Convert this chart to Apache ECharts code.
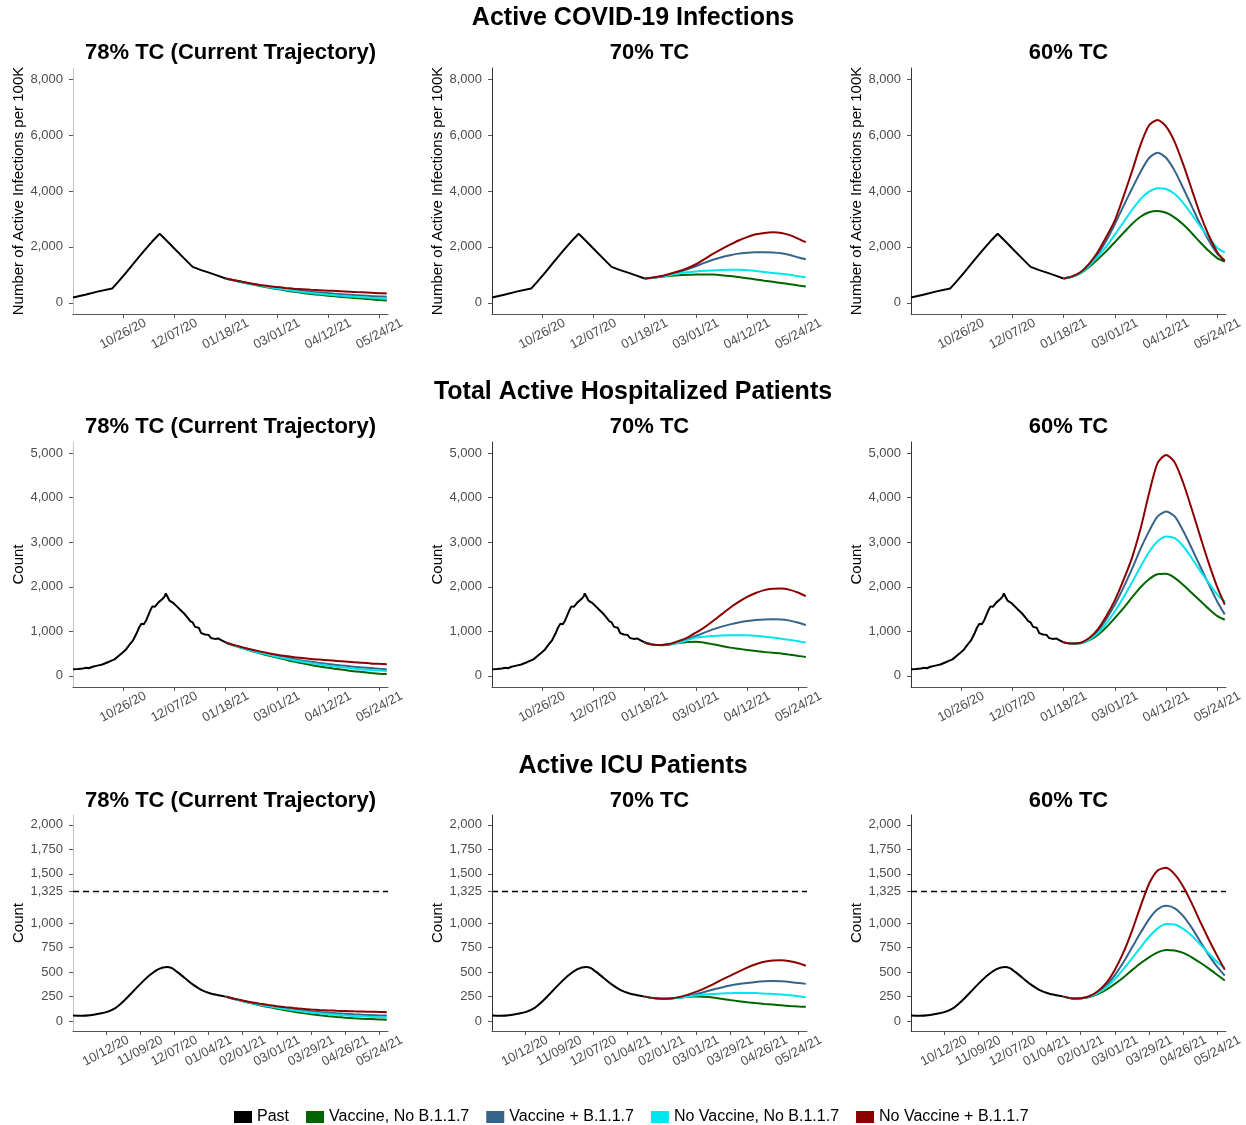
<!DOCTYPE html>
<html>
<head>
<meta charset="utf-8">
<script src="https://cdn.jsdelivr.net/npm/echarts@6/dist/echarts.min.js"></script>
<style>
html,body{margin:0;padding:0;background:#fff;}
#chart{width:1246px;height:1125px;}
</style>
</head>
<body>
<div id="chart"></div>
<script>
// ---------- DATA ----------
const seriesNames = ['Past', 'Vaccine, No B.1.1.7', 'Vaccine + B.1.1.7', 'No Vaccine, No B.1.1.7', 'No Vaccine + B.1.1.7'];
const rowTitles = ['Active COVID-19 Infections', 'Total Active Hospitalized Patients', 'Active ICU Patients'];
const colTitles = ['78% TC (Current Trajectory)', '70% TC', '60% TC'];
const yNames = ['Number of Active Infections per 100K', 'Count', 'Count'];

const xTicksWide = ['2020-10-26', '2020-12-07', '2021-01-18', '2021-03-01', '2021-04-12', '2021-05-24'];
const xTicksIcu = ['2020-10-12', '2020-11-09', '2020-12-07', '2021-01-04', '2021-02-01', '2021-03-01', '2021-03-29', '2021-04-26', '2021-05-24'];
const yTicksInf = [0, 2000, 4000, 6000, 8000];
const yTicksHosp = [0, 1000, 2000, 3000, 4000, 5000];
const yTicksIcu = [0, 250, 500, 750, 1000, 1325, 1500, 1750, 2000];
const icuCapacity = 1325;

// Past (observed)
const pastInfDates = ['2020-09-15', '2020-09-25', '2020-10-05', '2020-10-17', '2020-10-22', '2020-10-29', '2020-11-05', '2020-11-12', '2020-11-19', '2020-11-25', '2020-12-01', '2020-12-08', '2020-12-15', '2020-12-22', '2020-12-29', '2021-01-05', '2021-01-12', '2021-01-18'];
const pastInf = [190, 290, 400, 510, 750, 1110, 1480, 1850, 2200, 2470, 2210, 1900, 1590, 1285, 1170, 1070, 965, 870];

const pastHospDates = ['2020-09-15', '2020-09-19', '2020-09-23', '2020-09-26', '2020-09-28', '2020-10-01', '2020-10-05', '2020-10-09', '2020-10-13', '2020-10-16', '2020-10-19', '2020-10-22', '2020-10-25', '2020-10-28', '2020-10-31', '2020-11-03', '2020-11-06', '2020-11-08', '2020-11-10', '2020-11-12', '2020-11-14', '2020-11-17', '2020-11-19', '2020-11-21', '2020-11-24', '2020-11-27', '2020-11-29', '2020-11-30', '2020-12-01', '2020-12-03', '2020-12-06', '2020-12-09', '2020-12-12', '2020-12-15', '2020-12-18', '2020-12-20', '2020-12-22', '2020-12-24', '2020-12-27', '2020-12-29', '2021-01-01', '2021-01-04', '2021-01-06', '2021-01-09', '2021-01-12', '2021-01-14', '2021-01-16', '2021-01-18'];
const pastHosp = [150, 155, 165, 180, 170, 205, 230, 255, 300, 335, 370, 440, 510, 580, 690, 790, 950, 1080, 1170, 1160, 1250, 1450, 1560, 1550, 1650, 1720, 1780, 1850, 1820, 1690, 1640, 1560, 1480, 1400, 1300, 1230, 1200, 1100, 1080, 960, 930, 920, 850, 830, 840, 810, 780, 750];

const pastIcuDates = ['2020-09-15', '2020-09-22', '2020-09-29', '2020-10-06', '2020-10-13', '2020-10-20', '2020-10-27', '2020-11-03', '2020-11-10', '2020-11-17', '2020-11-24', '2020-12-01', '2020-12-05', '2020-12-09', '2020-12-15', '2020-12-22', '2020-12-29', '2021-01-05', '2021-01-12', '2021-01-18'];
const pastIcu = [58, 55, 60, 75, 95, 135, 210, 300, 390, 470, 530, 553, 540, 505, 445, 375, 320, 285, 265, 250];

// Projections (weekly from 2021-01-18)
const projDates = ['2021-01-18', '2021-01-25', '2021-02-01', '2021-02-08', '2021-02-15', '2021-02-22', '2021-03-01', '2021-03-08', '2021-03-15', '2021-03-22', '2021-03-29', '2021-04-05', '2021-04-12', '2021-04-19', '2021-04-26', '2021-05-03', '2021-05-10', '2021-05-17', '2021-05-24', '2021-05-30'];

// Infections per 100K
const inf78VacNoB = [870, 800, 730, 665, 605, 550, 490, 440, 395, 355, 318, 284, 254, 225, 200, 175, 150, 125, 100, 85];
const inf78VacB = [870, 805, 740, 680, 625, 575, 530, 490, 455, 425, 395, 370, 345, 320, 300, 280, 265, 245, 230, 220];
const inf78NoVacNoB = [870, 800, 735, 672, 615, 562, 512, 468, 425, 388, 352, 320, 290, 265, 240, 220, 200, 180, 165, 155];
const inf78NoVacB = [870, 810, 750, 692, 640, 600, 562, 532, 506, 485, 466, 450, 435, 420, 405, 390, 375, 360, 345, 335];

const inf70VacNoB = [870, 900, 935, 965, 990, 1005, 1015, 1015, 1010, 990, 960, 920, 880, 835, 790, 750, 710, 665, 620, 585];
const inf70VacB = [870, 905, 950, 1020, 1100, 1200, 1310, 1430, 1540, 1630, 1700, 1760, 1790, 1810, 1810, 1800, 1770, 1710, 1620, 1560];
const inf70NoVacNoB = [870, 900, 940, 995, 1050, 1090, 1120, 1145, 1160, 1175, 1180, 1180, 1165, 1140, 1100, 1070, 1040, 1000, 950, 910];
const inf70NoVacB = [870, 905, 960, 1040, 1130, 1240, 1380, 1560, 1750, 1920, 2080, 2230, 2350, 2450, 2500, 2520, 2500, 2420, 2290, 2170];

const inf60VacNoB = [870, 930, 1060, 1290, 1560, 1850, 2170, 2500, 2820, 3080, 3240, 3285, 3220, 3050, 2800, 2490, 2160, 1850, 1590, 1480];
const inf60VacB = [870, 940, 1080, 1360, 1740, 2230, 2820, 3460, 4080, 4680, 5180, 5370, 5180, 4720, 4100, 3450, 2800, 2220, 1750, 1520];
const inf60NoVacNoB = [870, 935, 1070, 1330, 1650, 2020, 2440, 2880, 3320, 3710, 3975, 4100, 4070, 3890, 3570, 3160, 2730, 2330, 1960, 1800];
const inf60NoVacB = [870, 945, 1100, 1400, 1820, 2360, 2950, 3800, 4700, 5650, 6350, 6540, 6300, 5750, 4950, 4050, 3150, 2400, 1800, 1490];

// Hospitalized
const hosp78VacNoB = [750, 680, 620, 560, 505, 455, 410, 365, 320, 280, 245, 210, 180, 155, 130, 105, 85, 65, 48, 40];
const hosp78VacB = [750, 685, 630, 575, 530, 485, 445, 410, 375, 345, 315, 290, 265, 245, 225, 205, 190, 175, 160, 150];
const hosp78NoVacNoB = [750, 683, 625, 570, 520, 475, 430, 390, 350, 315, 285, 255, 230, 205, 185, 165, 145, 130, 118, 110];
const hosp78NoVacB = [750, 690, 640, 590, 550, 510, 475, 445, 420, 400, 380, 365, 350, 335, 320, 305, 295, 280, 270, 262];

const hosp70VacNoB = [750, 700, 690, 705, 740, 760, 768, 745, 709, 672, 634, 608, 582, 560, 537, 518, 500, 475, 448, 425];
const hosp70VacB = [750, 700, 694, 715, 760, 820, 895, 970, 1044, 1105, 1156, 1200, 1231, 1255, 1268, 1270, 1268, 1240, 1194, 1141];
const hosp70NoVacNoB = [750, 700, 692, 710, 745, 800, 858, 880, 895, 905, 910, 912, 910, 898, 880, 860, 835, 808, 776, 746];
const hosp70NoVacB = [750, 700, 694, 720, 783, 860, 970, 1090, 1231, 1380, 1529, 1660, 1775, 1860, 1925, 1955, 1962, 1930, 1865, 1790];

const hosp60VacNoB = [750, 728, 730, 800, 920, 1090, 1300, 1520, 1760, 1990, 2170, 2280, 2290, 2200, 2040, 1860, 1680, 1500, 1340, 1260];
const hosp60VacB = [750, 728, 740, 830, 1000, 1280, 1600, 1980, 2400, 2850, 3250, 3580, 3690, 3580, 3250, 2860, 2450, 2050, 1660, 1380];
const hosp60NoVacNoB = [750, 728, 735, 815, 960, 1180, 1450, 1760, 2100, 2450, 2780, 3020, 3130, 3090, 2910, 2640, 2350, 2080, 1820, 1670];
const hosp60NoVacB = [750, 728, 745, 850, 1044, 1343, 1700, 2150, 2650, 3300, 4100, 4780, 4960, 4790, 4330, 3740, 3120, 2520, 1980, 1600];

// ICU
const icu78VacNoB = [250, 226, 203, 182, 162, 144, 127, 111, 96, 83, 71, 60, 51, 43, 36, 30, 25, 21, 17, 15];
const icu78VacB = [250, 228, 208, 190, 173, 158, 144, 131, 120, 110, 101, 93, 86, 80, 75, 70, 66, 62, 59, 57];
const icu78NoVacNoB = [250, 227, 206, 186, 168, 152, 137, 123, 110, 99, 89, 80, 72, 65, 59, 54, 49, 45, 42, 40];
const icu78NoVacB = [250, 229, 210, 193, 178, 165, 153, 143, 134, 126, 119, 114, 110, 106, 103, 100, 98, 96, 94, 92];

const icu70VacNoB = [250, 235, 228, 230, 238, 248, 252, 248, 240, 228, 215, 204, 193, 184, 176, 169, 162, 155, 150, 146];
const icu70VacB = [250, 235, 228, 230, 240, 256, 275, 298, 322, 343, 363, 378, 390, 400, 406, 408, 406, 400, 390, 380];
const icu70NoVacNoB = [250, 235, 228, 230, 238, 250, 262, 272, 278, 282, 285, 287, 288, 286, 281, 277, 271, 263, 254, 244];
const icu70NoVacB = [250, 235, 228, 232, 245, 268, 298, 335, 375, 420, 462, 505, 545, 580, 605, 618, 620, 610, 590, 565];

const icu60VacNoB = [250, 232, 232, 245, 275, 320, 380, 445, 520, 590, 650, 700, 725, 720, 695, 650, 595, 535, 470, 414];
const icu60VacB = [250, 232, 234, 252, 295, 365, 470, 600, 750, 900, 1040, 1140, 1175, 1150, 1070, 950, 810, 670, 550, 464];
const icu60NoVacNoB = [250, 232, 233, 248, 285, 345, 430, 530, 640, 750, 860, 945, 990, 985, 940, 870, 780, 690, 600, 542];
const icu60NoVacB = [250, 232, 234, 254, 305, 390, 525, 700, 920, 1170, 1400, 1535, 1562, 1495, 1370, 1200, 1010, 830, 660, 525];

// ---------- STYLE / LAYOUT ----------
const colors = ['#000000', '#006400', '#36648B', '#00E5EE', '#8B0000'];
const FONT = '"Liberation Sans", Arial, sans-serif';
const colLeft = [73, 492, 911];
const plotW = 315;
const rowTop = [68, 442, 815];
const rowH = [246, 245, 216];
const yRange = [[-400, 8400], [-250, 5250], [-100, 2100]];
const xMin = '2020-09-15', xMax = '2021-05-31';

function ts(s) { const p = s.split('-').map(Number); return Date.UTC(p[0], p[1] - 1, p[2]); }
function pad(n) { return (n < 10 ? '0' : '') + n; }
function fmtDate(v) { const d = new Date(v); return pad(d.getUTCMonth() + 1) + '/' + pad(d.getUTCDate()) + '/' + pad(d.getUTCFullYear() % 100); }
function pairs(dates, vals) { return dates.map((d, i) => [ts(d), vals[i]]); }

const rows = [
  { past: [pastInfDates, pastInf], pastSmooth: false, yTicks: yTicksInf, xTicks: xTicksWide,
    proj: [[inf78VacNoB, inf78VacB, inf78NoVacNoB, inf78NoVacB], [inf70VacNoB, inf70VacB, inf70NoVacNoB, inf70NoVacB], [inf60VacNoB, inf60VacB, inf60NoVacNoB, inf60NoVacB]] },
  { past: [pastHospDates, pastHosp], pastSmooth: false, yTicks: yTicksHosp, xTicks: xTicksWide,
    proj: [[hosp78VacNoB, hosp78VacB, hosp78NoVacNoB, hosp78NoVacB], [hosp70VacNoB, hosp70VacB, hosp70NoVacNoB, hosp70NoVacB], [hosp60VacNoB, hosp60VacB, hosp60NoVacNoB, hosp60NoVacB]] },
  { past: [pastIcuDates, pastIcu], pastSmooth: 0.3, yTicks: yTicksIcu, xTicks: xTicksIcu,
    proj: [[icu78VacNoB, icu78VacB, icu78NoVacNoB, icu78NoVacB], [icu70VacNoB, icu70VacB, icu70NoVacNoB, icu70NoVacB], [icu60VacNoB, icu60VacB, icu60NoVacNoB, icu60NoVacB]] }
];

const grid = [], xAxis = [], yAxis = [], series = [], graphic = [];
rows.forEach((row, r) => {
  graphic.push({ type: 'text', x: 633, y: [18, 392, 766][r], silent: true,
    style: { text: rowTitles[r], font: 'bold 25px ' + FONT, fill: '#000', align: 'center', verticalAlign: 'middle' } });
  for (let c = 0; c < 3; c++) {
    const idx = r * 3 + c;
    grid.push({ left: colLeft[c], top: rowTop[r], width: plotW, height: rowH[r], containLabel: false, outerBoundsMode: 'none' });
    graphic.push({ type: 'text', x: colLeft[c] + plotW / 2, y: [53, 427, 801][r], silent: true,
      style: { text: colTitles[c], font: 'bold 22px ' + FONT, fill: '#000', align: 'center', verticalAlign: 'middle' } });
    const xt = row.xTicks.map(ts);
    xAxis.push({ type: 'value', gridIndex: idx, min: ts(xMin), max: ts(xMax), scale: true,
      axisLine: { show: true, onZero: false, lineStyle: { color: '#555', width: 1 } },
      axisTick: { show: true, length: 4, customValues: xt, lineStyle: { color: '#555' } },
      axisLabel: { customValues: xt, formatter: fmtDate, rotate: 28, align: 'center', verticalAlign: 'middle', margin: 20, fontSize: 13, color: '#4d4d4d', fontFamily: FONT },
      splitLine: { show: false } });
    yAxis.push({ type: 'value', gridIndex: idx, min: yRange[r][0], max: yRange[r][1],
      name: yNames[r], nameLocation: 'middle', nameGap: 42, nameTextStyle: { fontSize: 15, color: '#000', fontFamily: FONT },
      axisLine: { show: true, onZero: false, lineStyle: { color: c === 0 ? '#c4c4c4' : '#333', width: 1 } },
      axisTick: { show: true, length: 4, customValues: row.yTicks, lineStyle: { color: '#555' } },
      axisLabel: { customValues: row.yTicks, formatter: v => v.toLocaleString('en-US'), fontSize: 13, color: '#4d4d4d', margin: 10, fontFamily: FONT },
      splitLine: { show: false } });
    const pastSeries = { name: seriesNames[0], type: 'line', xAxisIndex: idx, yAxisIndex: idx, showSymbol: false, symbol: 'none',
      smooth: row.pastSmooth, data: pairs(row.past[0], row.past[1]),
      lineStyle: { color: colors[0], width: 2 }, itemStyle: { color: colors[0] }, z: 2 };
    if (r === 2) {
      pastSeries.markLine = { silent: true, symbol: 'none', label: { show: false },
        lineStyle: { color: '#000', type: [6, 4], width: 1.3 }, data: [{ yAxis: icuCapacity }] };
    }
    series.push(pastSeries);
    row.proj[c].forEach((vals, k) => {
      series.push({ name: seriesNames[k + 1], type: 'line', xAxisIndex: idx, yAxisIndex: idx, showSymbol: false, symbol: 'none',
        smooth: 0.25, data: pairs(projDates, vals),
        lineStyle: { color: colors[k + 1], width: 2 }, itemStyle: { color: colors[k + 1] }, z: 3 + k });
    });
  }
});

const chart = echarts.init(document.getElementById('chart'), null, { renderer: 'canvas' });
chart.setOption({
  animation: false,
  backgroundColor: '#fff',
  textStyle: { fontFamily: FONT },
  grid, xAxis, yAxis, series, graphic,
  legend: { data: seriesNames, icon: 'rect', itemWidth: 18, itemHeight: 12, itemGap: 17, left: 229, top: 1104,
    textStyle: { fontSize: 16, color: '#000', fontFamily: FONT }, selectedMode: false }
});
</script>
</body>
</html>
